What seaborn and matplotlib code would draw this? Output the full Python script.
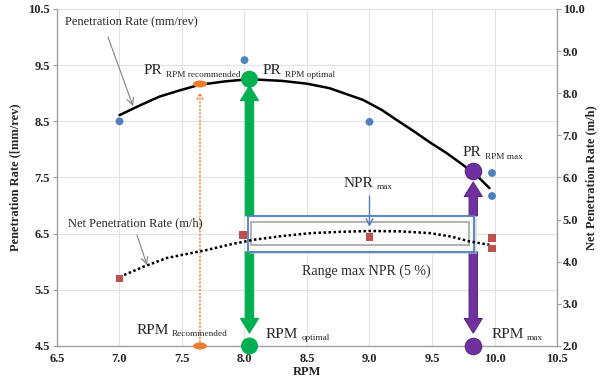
import matplotlib
matplotlib.use("Agg")
import matplotlib.pyplot as plt
import seaborn as sns
from matplotlib.patches import Ellipse, Rectangle, FancyArrowPatch, ArrowStyle

# ---------------- data ----------------
rpm_pr = [7.0, 8.0, 9.0, 9.98, 9.98]
pr_vals = [8.50, 9.59, 8.49, 7.58, 7.17]

rpm_npr = [7.0, 7.99, 9.0, 9.98, 9.98]
npr_vals = [3.60, 4.64, 4.59, 4.56, 4.31]

pr_curve_x = [7.0, 7.16, 7.32, 7.48, 7.64, 7.84, 8.04, 8.30, 8.50, 8.68, 8.95,
              9.10, 9.22, 9.35, 9.48, 9.62, 9.75, 9.86, 9.96]
pr_curve_y = [8.61, 8.78, 8.94, 9.05, 9.15, 9.21, 9.25, 9.22, 9.17, 9.09, 8.88,
              8.70, 8.52, 8.33, 8.13, 7.93, 7.72, 7.53, 7.31]

npr_curve_x = [7.0, 7.2, 7.38, 7.70, 7.90, 8.07, 8.30, 8.54, 8.77, 9.0, 9.25,
               9.48, 9.65, 9.79, 9.96]
npr_curve_y = [3.64, 3.89, 4.09, 4.28, 4.42, 4.52, 4.61, 4.68, 4.71, 4.73, 4.72,
               4.68, 4.60, 4.49, 4.40]

rpm_recommended, pr_recommended = 7.644, 9.165
rpm_optimal, pr_optimal = 8.04, 9.25
rpm_max, pr_max = 9.83, 7.62

x_ticks = [6.5, 7.0, 7.5, 8.0, 8.5, 9.0, 9.5, 10.0, 10.5]
y_left_ticks = [4.5, 5.5, 6.5, 7.5, 8.5, 9.5, 10.5]
y_right_ticks = [2.0, 3.0, 4.0, 5.0, 6.0, 7.0, 8.0, 9.0, 10.0]

BLUE = "#4F81BD"
RED = "#C0504D"
GREEN = "#00B050"
PURPLE = "#7030A0"
ORANGE = "#ED7D31"
GRAY = "#A6A6A6"

sns.set_theme(style="white")
plt.rcParams["font.family"] = ["Liberation Serif", "DejaVu Serif"]

fig, ax = plt.subplots(figsize=(6.01, 3.84), dpi=100)
fig.subplots_adjust(left=0.0948, right=0.9268, bottom=0.099, top=0.9766)
ax2 = ax.twinx()

ax.set_xlim(6.5, 10.5)
ax.set_ylim(4.5, 10.5)
ax2.set_ylim(2.0, 10.0)
ax.set_xticks(x_ticks)
ax.set_yticks(y_left_ticks)
ax2.set_yticks(y_right_ticks)
ax.set_xticklabels([f"{v:.1f}" for v in x_ticks], fontsize=9, fontweight="bold")
ax.set_yticklabels([f"{v:.1f}" for v in y_left_ticks], fontsize=9, fontweight="bold")
ax2.set_yticklabels([f"{v:.1f}" for v in y_right_ticks], fontsize=9, fontweight="bold")

ax.grid(True, color="#E3E3E3", lw=0.8, zorder=0)
ax.set_axisbelow(True)
for a in (ax, ax2):
    a.spines["top"].set_visible(False)
    for s in ["left", "right", "bottom"]:
        a.spines[s].set_color("#A0A0A0")
        a.spines[s].set_linewidth(1.0)
    a.tick_params(axis="both", length=3, width=0.8, color="#A0A0A0", pad=2)
ax2.tick_params(axis="y", pad=1)
ax2.spines["left"].set_visible(False)
ax2.spines["bottom"].set_visible(False)
ax.spines["right"].set_visible(False)

ax.set_ylabel("Penetration Rate ([mm/rev)", fontsize=9, fontweight="bold", labelpad=5)
ax2.set_ylabel("Net Penetration Rate (m/h)", fontsize=9, fontweight="bold", labelpad=1)

# ---------------- orange dotted recommended line ----------------
ax.annotate("", xy=(rpm_recommended, 9.02), xytext=(rpm_recommended, 4.5),
            arrowprops=dict(arrowstyle="->", color=ORANGE, lw=1, linestyle=":",
                            shrinkA=0, shrinkB=0, mutation_scale=10), zorder=2)

# ---------------- thick arrows ----------------
box_x0, box_x1, box_y0, box_y1 = 8.028, 9.836, 6.176, 6.817

def big_arrow(x, y_from, y_to, color, edge):
    st = ArrowStyle("Simple", head_length=10.5, head_width=13, tail_width=6)
    p = FancyArrowPatch((x, y_from), (x, y_to), arrowstyle=st, mutation_scale=1,
                        shrinkA=0, shrinkB=0, facecolor=color, edgecolor=edge,
                        lw=0.8, zorder=3)
    ax.add_patch(p)

big_arrow(rpm_optimal, box_y1, 9.13, GREEN, GREEN)
big_arrow(rpm_optimal, box_y0, 4.73, GREEN, GREEN)
big_arrow(rpm_max, box_y1, 7.42, PURPLE, "#5B2A80")
big_arrow(rpm_max, box_y0, 4.73, PURPLE, "#5B2A80")

# ---------------- NPR range box ----------------
ax.add_patch(Rectangle((box_x0 + 0.02, box_y0 - 0.04), box_x1 - box_x0, box_y1 - box_y0,
                       facecolor="#D0D0D0", edgecolor="none", alpha=0.6, zorder=3.5))
ax.add_patch(Rectangle((box_x0, box_y0), box_x1 - box_x0, box_y1 - box_y0,
                       facecolor="white", edgecolor=BLUE, lw=1.5, alpha=0.92, zorder=4))
ax.add_patch(Rectangle((8.052, 6.30), 9.796 - 8.052, 6.71 - 6.30,
                       facecolor="none", edgecolor=GRAY, lw=1.2, zorder=4.1))

# ---------------- PR curve and points ----------------
sns.lineplot(x=pr_curve_x, y=pr_curve_y, ax=ax, color="black", lw=1.8,
             sort=False, estimator=None, zorder=5)
sns.scatterplot(x=rpm_pr, y=pr_vals, ax=ax, color=BLUE, s=32, edgecolor="none",
                zorder=6)

# key dots
sns.scatterplot(x=[rpm_optimal, rpm_optimal], y=[pr_optimal, 4.5], ax=ax, color=GREEN,
                s=150, edgecolor="none", zorder=7, clip_on=False)
sns.scatterplot(x=[rpm_max, rpm_max], y=[pr_max, 4.5], ax=ax, color=PURPLE,
                s=140, edgecolor="#5B2A80", linewidth=0.8, zorder=7, clip_on=False)
for yy in (pr_recommended, 4.5):
    ax.add_patch(Ellipse((rpm_recommended, yy), 0.112, 0.125, facecolor=ORANGE,
                         edgecolor="none", zorder=7, clip_on=False))

# ---------------- NPR curve and points (right axis) ----------------
sns.lineplot(x=npr_curve_x, y=npr_curve_y, ax=ax2, color="black", lw=1.8,
             linestyle=(0, (1, 1)), sort=False, estimator=None, zorder=5)
sns.scatterplot(x=rpm_npr, y=npr_vals, ax=ax2, color=RED, s=30, marker="s",
                edgecolor="none", zorder=6)
ax.set_xlabel("RPM", fontsize=9, fontweight="bold", labelpad=1)

# ---------------- texts ----------------
def label(x, y, main, sub, size=11, subsize=6.7):
    t = ax.text(x, y, main, fontsize=size, ha="left", va="baseline", zorder=8)
    ax.annotate(sub, xy=(1, 0), xycoords=t, xytext=(2, -1.0),
                textcoords="offset points", fontsize=subsize, ha="left",
                va="bottom", zorder=8)

label(7.196, 9.34, "PR", "RPM recommended")
label(8.148, 9.34, "PR", "RPM optimal")
label(9.748, 7.88, "PR", "RPM max")
label(8.796, 7.331, "NPR", "max")
label(7.14, 4.714, "RPM", "Recommended")
label(8.172, 4.643, "RPM", "optimal")
label(9.98, 4.643, "RPM", "max")

ax.text(8.972, 5.764, "Range max NPR (5 %)", fontsize=10, ha="center", va="baseline", zorder=8)

ax.text(6.564, 10.215, "Penetration Rate (mm/rev)", fontsize=9, ha="left", va="baseline", zorder=8)
ax.annotate("", xy=(7.108, 8.773), xytext=(6.908, 10.0),
            arrowprops=dict(arrowstyle="->", color="#808080", lw=0.8,
                            shrinkA=0, shrinkB=0), zorder=8)
ax.text(6.588, 6.637, "Net Penetration Rate (m/h)", fontsize=9, ha="left", va="baseline", zorder=8)
ax.annotate("", xy=(7.22, 5.942), xytext=(7.14, 6.477),
            arrowprops=dict(arrowstyle="->", color="#808080", lw=0.8,
                            shrinkA=0, shrinkB=0), zorder=8)

# NPR max arrow
ax2.annotate("", xy=(9.0, 2 + (6.62 - 4.5) * 4 / 3), xytext=(9.0, 2 + (7.17 - 4.5) * 4 / 3),
             arrowprops=dict(arrowstyle="->", color=BLUE, lw=1.0,
                             shrinkA=0, shrinkB=0), zorder=8)

fig.savefig("out.png", dpi=100)
